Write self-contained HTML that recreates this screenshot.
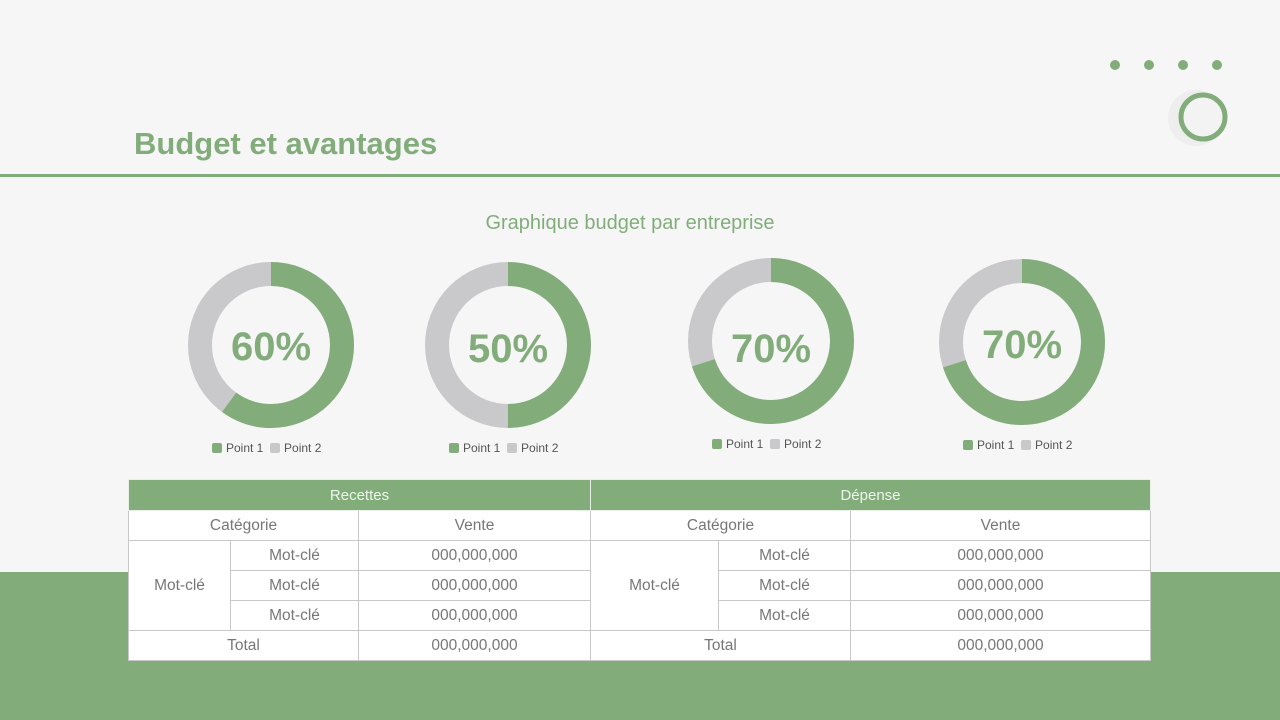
<!DOCTYPE html>
<html><head><meta charset="utf-8"><style>
body{margin:0;width:1280px;height:720px;background:#f6f6f7;position:relative;overflow:hidden;font-family:"Liberation Sans",sans-serif}
.abs{position:absolute}
table{position:absolute;left:128px;top:479px;border-collapse:collapse;table-layout:fixed;background:#fff}
td{border:1px solid #c8c8cb;height:29px;padding:0;text-align:center;font-size:15.5px;color:#777}
th{background:#82ad7b;color:#eef5ec;font-weight:normal;font-size:15px;height:30px;border:1px solid #e8efe6;padding:0}
.leg{position:absolute;font-size:12px;color:#555;white-space:nowrap}
.leg i{display:inline-block;width:10px;height:10px;border-radius:2px;vertical-align:-1px;margin-right:4px}
.pct{position:absolute;font-weight:bold;font-size:40px;color:#82ad7b;width:200px;text-align:center}
</style></head><body>
<div class="abs" style="left:0;top:572px;width:1280px;height:148px;background:#82ad7b"></div>
<div class="abs" style="left:0;top:174px;width:1280px;height:3px;background:#82ad7b"></div>
<div class="abs" style="left:134px;top:126px;font-size:31px;font-weight:bold;color:#82ad7b">Budget et avantages</div>
<div class="abs" style="left:0;width:1260px;top:212px;text-align:center;font-size:20px;color:#82ad7b">Graphique budget par entreprise</div>
<svg class="abs" style="left:0;top:0" width="1280" height="480">
<g fill="#82ad7b"><circle cx="1115" cy="65" r="5"/><circle cx="1149" cy="65" r="5"/><circle cx="1183" cy="65" r="5"/><circle cx="1217" cy="65" r="5"/></g>
<circle cx="1196" cy="118" r="28" fill="#eeeeef"/>
<circle cx="1203" cy="117" r="22" fill="#f3f3f4" stroke="#82ad7b" stroke-width="5"/>
<g fill="none" stroke-width="24">
<circle cx="271" cy="345" r="71" stroke="#c9c8cb"/>
<circle cx="271" cy="345" r="71" stroke="#82ad7b" stroke-dasharray="267.7 446.1" transform="rotate(-90 271 345)"/>
<circle cx="508" cy="345" r="71" stroke="#c9c8cb"/>
<circle cx="508" cy="345" r="71" stroke="#82ad7b" stroke-dasharray="223 446.1" transform="rotate(-90 508 345)"/>
<circle cx="771" cy="341" r="71" stroke="#c9c8cb"/>
<circle cx="771" cy="341" r="71" stroke="#82ad7b" stroke-dasharray="312.3 446.1" transform="rotate(-90 771 341)"/>
<circle cx="1022" cy="342" r="71" stroke="#c9c8cb"/>
<circle cx="1022" cy="342" r="71" stroke="#82ad7b" stroke-dasharray="312.3 446.1" transform="rotate(-90 1022 342)"/>
</g></svg>
<div class="pct" style="left:171px;top:325px">60%</div>
<div class="pct" style="left:408px;top:327px">50%</div>
<div class="pct" style="left:671px;top:327px">70%</div>
<div class="pct" style="left:922px;top:323px">70%</div>
<div class="leg" style="left:212px;top:441px"><i style="background:#82ad7b"></i>Point 1 &nbsp;<i style="background:#c9c8cb"></i>Point 2</div>
<div class="leg" style="left:449px;top:441px"><i style="background:#82ad7b"></i>Point 1 &nbsp;<i style="background:#c9c8cb"></i>Point 2</div>
<div class="leg" style="left:712px;top:437px"><i style="background:#82ad7b"></i>Point 1 &nbsp;<i style="background:#c9c8cb"></i>Point 2</div>
<div class="leg" style="left:963px;top:438px"><i style="background:#82ad7b"></i>Point 1 &nbsp;<i style="background:#c9c8cb"></i>Point 2</div>
<table>
<colgroup><col style="width:102px"><col style="width:128px"><col style="width:232px"><col style="width:128px"><col style="width:132px"><col style="width:300px"></colgroup>
<tr><th colspan="3">Recettes</th><th colspan="3">Dépense</th></tr>
<tr><td colspan="2">Catégorie</td><td>Vente</td><td colspan="2">Catégorie</td><td>Vente</td></tr>
<tr><td rowspan="3">Mot-clé</td><td>Mot-clé</td><td>000,000,000</td><td rowspan="3">Mot-clé</td><td>Mot-clé</td><td>000,000,000</td></tr>
<tr><td>Mot-clé</td><td>000,000,000</td><td>Mot-clé</td><td>000,000,000</td></tr>
<tr><td>Mot-clé</td><td>000,000,000</td><td>Mot-clé</td><td>000,000,000</td></tr>
<tr><td colspan="2">Total</td><td>000,000,000</td><td colspan="2">Total</td><td>000,000,000</td></tr>
</table>
</body></html>
